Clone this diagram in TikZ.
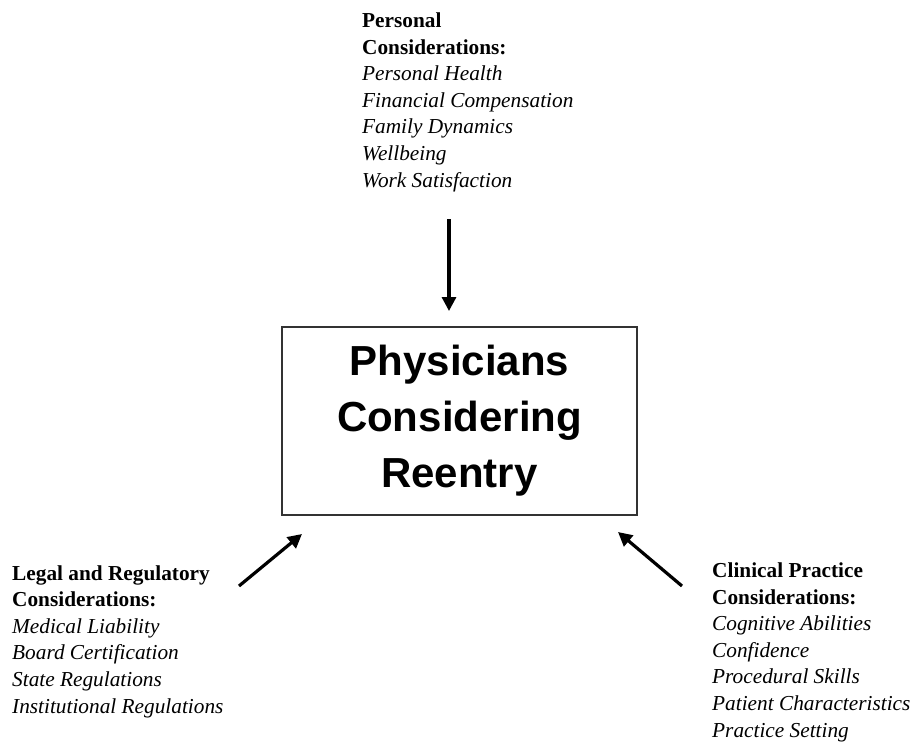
\documentclass[tikz,border=0pt]{standalone}
\usepackage{fontspec}
\setmainfont{Liberation Serif}
\newfontfamily\boxfont{Liberation Sans}
\usetikzlibrary{arrows.meta}
\begin{document}
\begin{tikzpicture}[x=1pt,y=-1pt,
  blocktext/.style={anchor=base west,align=left,inner sep=0pt,font=\fontsize{21.3}{26.6}\selectfont},
  mainbox/.style={draw=black!80,line width=1.2pt,minimum width=355pt,minimum height=188pt,inner sep=0pt,align=center,font=\boxfont\bfseries\fontsize{42}{56}\selectfont},
  arr/.style={line width=3.2pt,-{Triangle[length=14pt,width=14pt]}}]
\useasboundingbox (0,0) rectangle (916,744);
\node[mainbox] (box) at (459.5,421) {Physicians\\Considering\\Reentry};
\node[blocktext] (pers) at (362,187) {\textbf{Personal}\\\textbf{Considerations:}\\\textit{Personal Health}\\\textit{Financial Compensation}\\\textit{Family Dynamics}\\\textit{Wellbeing}\\\textit{Work Satisfaction}};
\node[blocktext] (legal) at (12,713) {\textbf{Legal and Regulatory}\\\textbf{Considerations:}\\\textit{Medical Liability}\\\textit{Board Certification}\\\textit{State Regulations}\\\textit{Institutional Regulations}};
\node[blocktext] (clin) at (712,737) {\textbf{Clinical Practice}\\\textbf{Considerations:}\\\textit{Cognitive Abilities}\\\textit{Confidence}\\\textit{Procedural Skills}\\\textit{Patient Characteristics}\\\textit{Practice Setting}};
\coordinate (p1) at (449,219);
\coordinate (p2) at (449,311);
\coordinate (l1) at (239,586);
\coordinate (l2) at (302,534);
\coordinate (r1) at (682,586);
\coordinate (r2) at (618,532);
\draw[arr] (p1) -- (p2);
\draw[arr] (l1) -- (l2);
\draw[arr] (r1) -- (r2);
\end{tikzpicture}
\end{document}
